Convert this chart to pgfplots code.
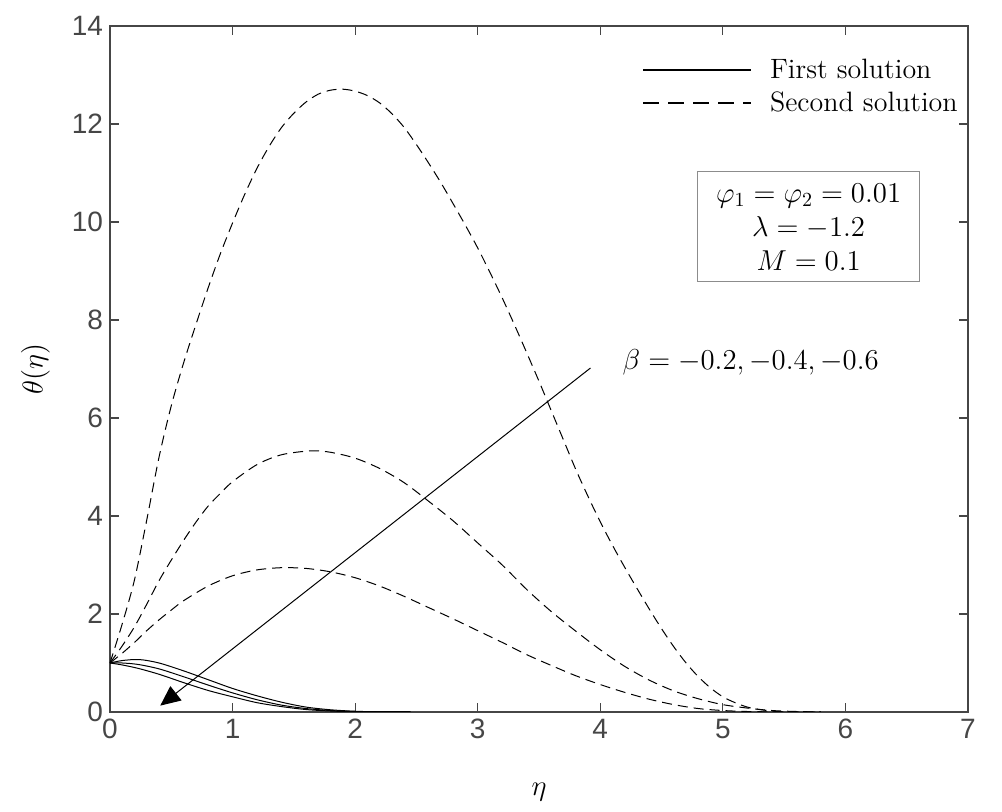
\documentclass[border=0pt]{standalone}
\usepackage{fontspec}
\setsansfont{Liberation Sans}
\usepackage{pgfplots}
\pgfplotsset{compat=1.18}
\usetikzlibrary{arrows.meta}

\definecolor{axgray}{RGB}{70,70,70}
\definecolor{boxgray}{RGB}{140,140,140}

\begin{document}
\begin{tikzpicture}
\useasboundingbox (-55pt,-50pt) rectangle (446pt,356pt);
\begin{axis}[
  at={(0,0)}, anchor=south west,
  scale only axis, width=429pt, height=343pt,
  xmin=0, xmax=7, ymin=0, ymax=14,
  xtick={0,1,...,7}, ytick={0,2,...,14},
  tick align=inside, tick pos=both,
  major tick length=4.3pt,
  axis line style={axgray, line width=0.6pt},
  every tick/.style={axgray, line width=0.6pt},
  /pgf/number format/assume math mode=true,
  ticklabel style={font=\sffamily\fontsize{14}{16}\selectfont, text=axgray},
  xlabel={$\eta$}, ylabel={$\theta(\eta)$},
  label style={font=\fontsize{15}{18}\selectfont},
  xlabel style={at={(axis description cs:0.5,-0.117)}, anchor=center},
  ylabel style={at={(axis description cs:-0.087,0.5)}, anchor=center},
  legend image code/.code={\draw[#1] (0pt,0pt) -- (54pt,0pt);},
  legend style={at={(0.993,0.958)}, anchor=north east, draw=none, fill=none,
    font=\fontsize{14}{17}\selectfont, inner sep=0pt, row sep=1pt,
    column sep=7pt, nodes={inner sep=2pt}},
  legend cell align=left,
]
\addlegendimage{black, line width=1pt}
\addlegendentry{First solution}
\addlegendimage{black, line width=1pt, dash pattern=on 8pt off 4.5pt}
\addlegendentry{Second solution}

% second solutions (dashed)
\addplot[black, line width=0.5pt, dash pattern=on 5pt off 3pt, smooth, forget plot] coordinates {
(0,1)(0.1,1.8)(0.2,2.7)(0.3,3.92)(0.4,5.2)(0.5,6.25)(0.6,7.12)(0.7,7.9)(0.8,8.65)
(0.9,9.35)(1.0,9.98)(1.1,10.57)(1.2,11.1)(1.3,11.55)(1.4,11.93)(1.5,12.22)
(1.6,12.45)(1.7,12.61)(1.8,12.69)(1.9,12.71)(2.0,12.67)(2.1,12.58)(2.2,12.43)
(2.3,12.21)(2.4,11.93)(2.5,11.58)(2.6,11.2)(2.7,10.8)(2.8,10.37)(2.9,9.93)
(3.0,9.47)(3.1,8.97)(3.2,8.45)(3.3,7.9)(3.4,7.33)(3.5,6.75)(3.6,6.15)(3.7,5.55)
(3.8,4.95)(3.9,4.4)(4.0,3.88)(4.1,3.4)(4.2,2.95)(4.3,2.52)(4.4,2.1)(4.5,1.7)
(4.6,1.33)(4.7,1.0)(4.8,0.72)(4.9,0.49)(5.0,0.31)(5.1,0.19)(5.2,0.1)(5.3,0.05)
(5.4,0.02)(5.5,0.005)(5.6,0.0)(5.8,0.0)};
\addplot[black, line width=0.5pt, dash pattern=on 5pt off 3pt, smooth, forget plot] coordinates {
(0,1)(0.1,1.35)(0.2,1.74)(0.3,2.2)(0.4,2.68)(0.5,3.1)(0.6,3.5)(0.7,3.87)(0.8,4.2)
(0.9,4.46)(1.0,4.7)(1.2,5.05)(1.4,5.25)(1.64,5.33)(1.8,5.3)(2.0,5.18)(2.2,4.97)
(2.4,4.68)(2.6,4.3)(2.8,3.9)(3.0,3.45)(3.2,3.0)(3.4,2.5)(3.6,2.05)(3.8,1.65)
(4.0,1.27)(4.2,0.93)(4.4,0.65)(4.6,0.43)(4.8,0.27)(5.0,0.15)(5.2,0.08)(5.4,0.03)
(5.6,0.01)(5.8,0.0)};
\addplot[black, line width=0.5pt, dash pattern=on 5pt off 3pt, smooth, forget plot] coordinates {
(0,1)(0.1,1.2)(0.2,1.42)(0.3,1.66)(0.4,1.88)(0.5,2.08)(0.6,2.27)(0.8,2.57)(1.0,2.78)
(1.2,2.9)(1.4,2.945)(1.6,2.93)(1.8,2.86)(2.0,2.74)(2.2,2.57)(2.4,2.36)(2.6,2.13)
(2.8,1.9)(3.0,1.66)(3.2,1.42)(3.4,1.17)(3.6,0.95)(3.8,0.74)(4.0,0.56)(4.2,0.4)
(4.4,0.26)(4.6,0.15)(4.8,0.07)(5.0,0.03)(5.2,0.01)(5.5,0.0)(5.8,0.0)};

% first solutions (solid)
\addplot[black, line width=0.5pt, smooth, forget plot] coordinates {
(0,1)(0.1,1.05)(0.24,1.07)(0.4,1.0)(0.6,0.84)(0.8,0.66)(1.0,0.48)(1.2,0.33)
(1.4,0.2)(1.6,0.1)(1.8,0.045)(2.0,0.015)(2.2,0.004)(2.45,0.0)};
\addplot[black, line width=0.5pt, smooth, forget plot] coordinates {
(0,1)(0.1,1.0)(0.23,0.97)(0.4,0.88)(0.6,0.72)(0.8,0.55)(1.0,0.39)(1.2,0.25)
(1.4,0.14)(1.6,0.07)(1.8,0.03)(2.0,0.01)(2.2,0.002)(2.45,0.0)};
\addplot[black, line width=0.5pt, smooth, forget plot] coordinates {
(0,1)(0.1,0.96)(0.23,0.89)(0.4,0.77)(0.6,0.6)(0.8,0.44)(1.0,0.31)(1.2,0.19)
(1.4,0.11)(1.6,0.05)(1.8,0.02)(2.0,0.005)(2.2,0.001)(2.45,0.0)};

% annotations
\draw[black, line width=0.5pt, -{Triangle[length=10pt,width=9pt]}]
  (axis cs:3.92,7.02) -- (axis cs:0.41,0.13);
\node[anchor=west, inner sep=0pt, font=\fontsize{14}{17}\selectfont]
  at (axis cs:4.18,7.14) {$\beta=-0.2,-0.4,-0.6$};
\node[draw=boxgray, line width=0.6pt, fill=white, align=center,
  minimum width=111pt, minimum height=55pt, inner sep=2pt,
  font=\fontsize{14}{17}\selectfont]
  at (axis cs:5.70,9.9) {$\varphi_1=\varphi_2=0.01$\\$\lambda=-1.2$\\$M=0.1$};
\end{axis}
\end{tikzpicture}
\end{document}
